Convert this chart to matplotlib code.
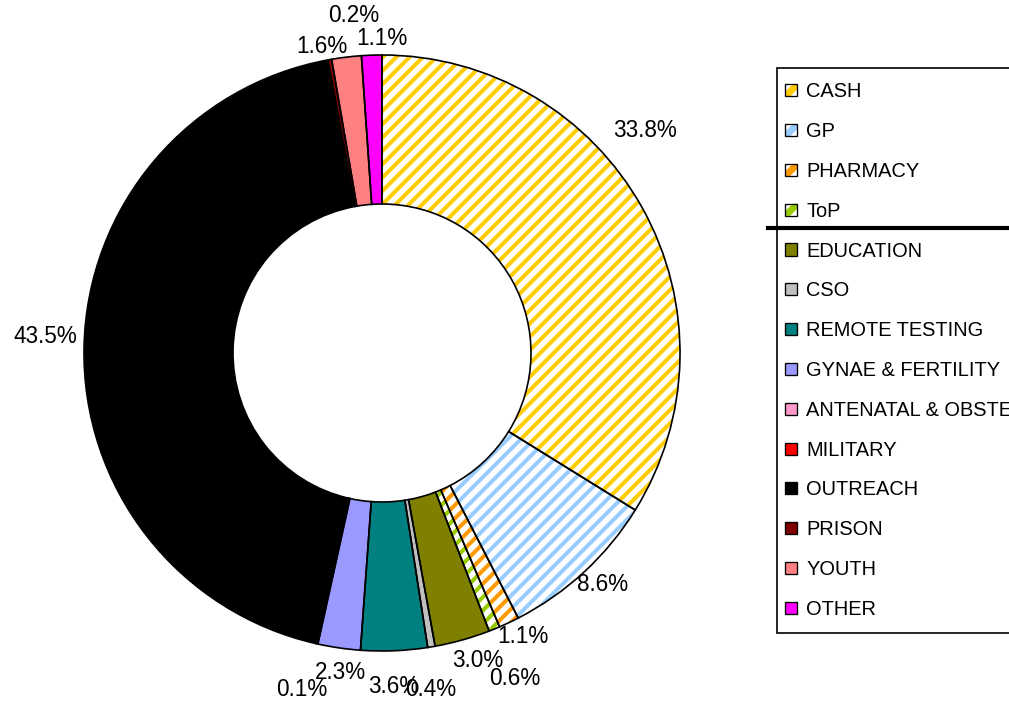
import matplotlib
matplotlib.use("Agg")
import numpy as np
import matplotlib.pyplot as plt
from matplotlib.patches import Patch, Rectangle, Polygon
from matplotlib.lines import Line2D
from matplotlib.legend_handler import HandlerBase

plt.rcParams['font.family'] = ['Liberation Sans', 'DejaVu Sans']
plt.rcParams['hatch.linewidth'] = 2.4

# slices, clockwise from 12 o'clock
categories = ["CASH", "GP", "PHARMACY", "ToP", "EDUCATION", "CSO",
              "REMOTE TESTING", "GYNAE & FERTILITY", "ANTENATAL & OBSTETRICS",
              "MILITARY", "OUTREACH", "PRISON", "YOUTH", "OTHER"]
shares = [33.8, 8.6, 1.1, 0.6, 3.0, 0.4, 3.6, 2.3, 0.1, 0.0, 43.5, 0.2, 1.6, 1.1]
colors = ["#FFCC00", "#99CCFF", "#FF9900", "#99CC00", "#808000", "#C0C0C0",
          "#008080", "#9999FF", "#FF99CC", "#FF0000", "#000000", "#800000",
          "#FF8080", "#FF00FF"]
striped = [True, True, True, True] + [False] * 10

# label placement (radius in pie radii, angle nudge in degrees clockwise)
label_r = [1.157, 1.075, 1.064, 1.178, 1.08, 1.142, 1.121, 1.08, 1.162, 1.0,
           1.132, 1.136, 1.05, 1.057]
label_shift = [-11.2, -0.9, -1.2, 0, -1.7, 1.4, 0.4, -0.8, 0.8, 0, 1.7, 5.3, -4.3, 2.0]


class SquareHandler(HandlerBase):
    """small square key, nudged left; striped keys get one diagonal band"""
    def __init__(self, band=False):
        super().__init__()
        self.band = band

    def create_artists(self, legend, orig_handle, xd, yd, width, height, fontsize, trans):
        x0 = -xd - 0.3 * fontsize
        y0 = -yd
        s = height
        arts = []
        if self.band:
            arts.append(Rectangle((x0, y0), s, s, facecolor='white', edgecolor='none',
                                  transform=trans))
            arts.append(Polygon([[x0, y0], [x0 + 0.4 * s, y0], [x0 + s, y0 + 0.6 * s],
                                 [x0 + s, y0 + s], [x0 + 0.6 * s, y0 + s], [x0, y0 + 0.4 * s]],
                                closed=True, facecolor=orig_handle.get_facecolor(),
                                edgecolor='none', transform=trans))
            arts.append(Rectangle((x0, y0), s, s, facecolor='none', edgecolor='black',
                                  lw=0.8, transform=trans))
        else:
            arts.append(Rectangle((x0, y0), s, s, facecolor=orig_handle.get_facecolor(),
                                  edgecolor='black', lw=0.8, transform=trans))
        return arts


dpi = 120
W, H = 1010, 704
fig = plt.figure(figsize=(W / dpi, H / dpi), dpi=dpi)

R = 298          # outer radius in px
cx, cy = 382, 353
k = 1.25
side = 2 * R * k
ax = fig.add_axes([(cx - side / 2) / W, (H - cy - side / 2) / H, side / W, side / H])

face = ['white' if s else c for s, c in zip(striped, colors)]
wedges, _ = ax.pie(shares, colors=face, startangle=90, counterclock=False,
                   radius=1, wedgeprops=dict(width=0.5, linewidth=0))
for w, s, c in zip(wedges, striped, colors):
    if s:
        w.set_hatch('///')
        w.set_edgecolor(c)
        w.set_linewidth(0)
# outlines on top
ax.pie(shares, startangle=90, counterclock=False, radius=1,
       wedgeprops=dict(width=0.5, fill=False, edgecolor='black', linewidth=1.0))

total = sum(shares)
vals = np.array(shares)
mid = 90 - 360 * (np.cumsum(vals) - vals / 2) / total
for i, v in enumerate(shares):
    if v == 0:
        continue
    a = np.deg2rad(mid[i] - label_shift[i])
    ax.text(label_r[i] * np.cos(a), label_r[i] * np.sin(a), f"{v:.1f}%",
            ha='center', va='center', fontsize=13.5)

ax.set_xlim(-k, k)
ax.set_ylim(-k, k)
ax.set_aspect('equal')
ax.axis('off')

handles = [Patch(facecolor=c) for c in colors]
hmap = {h: SquareHandler(band=s) for h, s in zip(handles, striped)}

leg = fig.legend(handles, categories, loc='upper left', handler_map=hmap,
                 bbox_to_anchor=(777 / W, 1 - 68 / H), bbox_transform=fig.transFigure,
                 frameon=True, fancybox=False, edgecolor='black', framealpha=1,
                 fontsize=12, labelspacing=1.04, handlelength=0.55, handleheight=0.55,
                 handletextpad=0.2, borderpad=0.72, borderaxespad=0)
leg.get_frame().set_linewidth(1.0)

fig.add_artist(Line2D([768 / W, 1.0], [1 - 228 / H] * 2, color='black', lw=2.5,
                      transform=fig.transFigure, zorder=10))

fig.savefig("out.png", dpi=dpi)
